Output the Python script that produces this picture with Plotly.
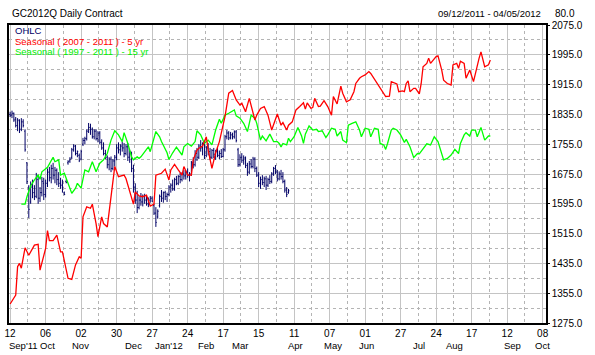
import plotly.graph_objects as go

# ---------------- data ----------------
day_tick_idx = [0, 19, 38, 57, 76, 95, 114, 133, 152, 171, 190, 209, 228, 247, 266, 285]
day_tick_text = ["12", "06", "02", "30", "27", "24", "17", "15", "11", "07", "01", "27", "24", "17", "12", "08"]
month_text = ["Sep'11", "Oct", "Nov", "Dec", "Jan'12", "Feb", "Mar", "Apr", "May", "Jun", "Jul", "Aug", "Sep", "Oct"]
month_pos = [0, 20.0, 37.7, 66, 85.1, 104.6, 123, 152.5, 173, 190.7, 218.6, 237.7, 269, 285]

bar_open = [1835, 1833, 1838, 1822, 1805, 1818, 1795, 1815, 1790, 1705, 1640, 1600, 1640, 1625, 1615, 1660,
            1610, 1625, 1650, 1620, 1650, 1680, 1665, 1690, 1672, 1685, 1660, 1650, 1645, 1625, 1655, 1705,
            1710, 1720, 1740, 1750, 1730, 1725, 1715, 1755, 1765, 1770, 1790, 1800, 1795, 1775, 1790, 1770,
            1785, 1760, 1745, 1730, 1720, 1700, 1715, 1690, 1710, 1720, 1745, 1740, 1750, 1745, 1730, 1748,
            1720, 1730, 1690, 1640, 1605, 1585, 1605, 1600, 1615, 1605, 1595, 1605, 1610, 1590, 1570, 1560,
            1590, 1615, 1610, 1625, 1615, 1620, 1640, 1645, 1635, 1660, 1650, 1668, 1660, 1675, 1670, 1680,
            1672, 1675, 1705, 1700, 1730, 1720, 1750, 1745, 1755, 1725, 1745, 1735, 1720, 1738, 1728, 1735,
            1725, 1730, 1722, 1740, 1775, 1785, 1772, 1780, 1775, 1788, 1740, 1700, 1720, 1712, 1718, 1698,
            1680, 1702, 1695, 1715, 1690, 1672, 1650, 1660, 1652, 1662, 1645, 1660, 1655, 1675, 1690, 1680,
            1662, 1675, 1668, 1655, 1632, 1625]
bar_high = [1842, 1845, 1840, 1828, 1825, 1822, 1825, 1822, 1795, 1707, 1645, 1655, 1660, 1645, 1678, 1668,
            1640, 1667, 1665, 1660, 1690, 1694, 1700, 1705, 1694, 1690, 1680, 1665, 1660, 1628, 1660, 1712,
            1720, 1745, 1755, 1753, 1738, 1730, 1740, 1772, 1775, 1795, 1812, 1810, 1800, 1795, 1795, 1790,
            1790, 1768, 1760, 1740, 1725, 1720, 1722, 1715, 1726, 1755, 1760, 1755, 1762, 1758, 1755, 1758,
            1740, 1735, 1700, 1650, 1630, 1615, 1624, 1620, 1622, 1618, 1612, 1616, 1615, 1595, 1586, 1580,
            1620, 1632, 1628, 1630, 1625, 1645, 1650, 1660, 1665, 1670, 1672, 1678, 1680, 1686, 1685, 1690,
            1680, 1710, 1720, 1739, 1745, 1755, 1766, 1760, 1762, 1750, 1758, 1745, 1742, 1745, 1740, 1745,
            1738, 1742, 1745, 1780, 1793, 1790, 1788, 1786, 1792, 1793, 1745, 1728, 1731, 1725, 1722, 1705,
            1710, 1715, 1721, 1720, 1695, 1680, 1668, 1672, 1668, 1670, 1665, 1672, 1680, 1694, 1699, 1686,
            1682, 1686, 1680, 1660, 1640, 1635]
bar_low = [1828, 1825, 1815, 1800, 1790, 1785, 1790, 1800, 1735, 1648, 1557, 1595, 1610, 1605, 1610, 1595,
           1600, 1615, 1605, 1612, 1640, 1655, 1650, 1660, 1650, 1645, 1640, 1635, 1625, 1618, 1650, 1700,
           1705, 1715, 1735, 1725, 1720, 1707, 1712, 1750, 1755, 1765, 1785, 1780, 1770, 1768, 1765, 1760,
           1755, 1740, 1725, 1715, 1690, 1685, 1680, 1685, 1695, 1712, 1730, 1725, 1735, 1720, 1725, 1710,
           1705, 1680, 1625, 1595, 1570, 1580, 1590, 1588, 1595, 1590, 1586, 1598, 1600, 1565, 1533, 1555,
           1585, 1600, 1598, 1605, 1600, 1615, 1625, 1630, 1630, 1645, 1645, 1650, 1655, 1660, 1660, 1665,
           1655, 1670, 1690, 1695, 1710, 1715, 1735, 1725, 1715, 1720, 1725, 1713, 1715, 1718, 1713, 1720,
           1715, 1718, 1720, 1735, 1768, 1766, 1768, 1768, 1770, 1760, 1694, 1695, 1705, 1700, 1691, 1670,
           1675, 1690, 1690, 1680, 1667, 1640, 1635, 1645, 1640, 1632, 1640, 1648, 1650, 1670, 1675, 1655,
           1658, 1660, 1650, 1625, 1613, 1622]
bar_close = [1833, 1838, 1820, 1805, 1820, 1795, 1815, 1805, 1740, 1655, 1580, 1640, 1625, 1615, 1665, 1610,
             1625, 1655, 1620, 1650, 1680, 1665, 1690, 1672, 1685, 1660, 1650, 1645, 1640, 1620, 1652, 1708,
             1715, 1740, 1750, 1730, 1735, 1712, 1735, 1765, 1770, 1790, 1800, 1795, 1775, 1790, 1770, 1785,
             1760, 1745, 1730, 1720, 1700, 1715, 1690, 1710, 1720, 1745, 1740, 1750, 1745, 1730, 1748, 1720,
             1735, 1690, 1640, 1605, 1585, 1605, 1600, 1615, 1605, 1595, 1605, 1610, 1602, 1570, 1545, 1575,
             1615, 1610, 1625, 1615, 1620, 1640, 1645, 1635, 1660, 1650, 1668, 1660, 1675, 1670, 1680, 1672,
             1675, 1705, 1700, 1730, 1720, 1750, 1745, 1755, 1725, 1745, 1735, 1720, 1738, 1728, 1735, 1725,
             1730, 1722, 1740, 1775, 1785, 1772, 1780, 1775, 1788, 1765, 1700, 1720, 1712, 1718, 1698, 1680,
             1702, 1695, 1715, 1690, 1672, 1650, 1660, 1652, 1662, 1645, 1660, 1655, 1675, 1690, 1680, 1662,
             1675, 1668, 1655, 1632, 1620, 1630]
bar_idx = list(range(len(bar_close)))

red_idx = [0, 3, 4, 5, 6, 8, 10, 13, 15, 16, 19, 20, 21, 23, 25, 27, 28, 31, 33, 35, 37, 38, 39, 41, 43, 44,
           46, 47, 49, 50, 52, 54, 56, 58, 61, 62, 66, 67, 69, 71, 73, 75, 77, 78, 81, 83, 85, 86, 88, 90,
           92, 93, 95, 97, 98, 100, 101, 103, 105, 106, 108, 110, 112, 114, 115, 117, 119, 121, 123, 124,
           126, 128, 129, 131, 132, 134, 136, 138, 140, 143, 145, 146, 148, 149, 151, 153, 155, 157, 158,
           159, 161, 162, 163, 165, 166, 168, 170, 172, 173, 175, 177, 178, 180, 182, 184, 185, 187, 188,
           190, 192, 193, 195, 197, 199, 201, 203, 204, 207, 208, 210, 211, 212, 213, 214, 216, 217, 219,
           220, 221, 223, 224, 225, 227, 228, 229, 231, 232, 234, 236, 237, 239, 240, 241, 243, 244, 246,
           248, 250, 251, 252, 254, 256, 257]
red_val = [1326, 1350, 1426, 1435, 1422, 1477, 1457, 1484, 1486, 1417, 1475, 1523, 1496, 1496, 1511, 1466,
           1466, 1395, 1392, 1431, 1453, 1449, 1560, 1587, 1583, 1594, 1542, 1507, 1560, 1542, 1533, 1623,
           1695, 1668, 1672, 1663, 1594, 1627, 1616, 1614, 1618, 1589, 1594, 1672, 1677, 1688, 1659, 1686,
           1701, 1686, 1672, 1695, 1672, 1672, 1713, 1739, 1744, 1750, 1775, 1739, 1690, 1732, 1762, 1807,
           1829, 1892, 1899, 1874, 1860, 1865, 1842, 1878, 1856, 1820, 1833, 1851, 1856, 1833, 1793, 1836,
           1806, 1813, 1793, 1806, 1815, 1847, 1856, 1866, 1849, 1866, 1851, 1854, 1878, 1856, 1857, 1872,
           1856, 1833, 1883, 1863, 1911, 1892, 1869, 1874, 1896, 1918, 1932, 1936, 1941, 1950, 1945, 1929,
           1914, 1896, 1883, 1884, 1923, 1917, 1896, 1898, 1896, 1918, 1925, 1896, 1905, 1905, 1890, 1918,
           1963, 1972, 1986, 1972, 1986, 1990, 1992, 1954, 1927, 1918, 1914, 1968, 1972, 1959, 1978, 1972,
           1932, 1954, 1923, 1968, 1986, 2003, 1963, 1968, 1981]

green_idx = [6, 8, 9, 11, 13, 15, 16, 17, 20, 22, 23, 24, 26, 27, 29, 31, 33, 35, 36, 38, 40, 42, 44, 46,
             48, 50, 52, 54, 56, 58, 60, 61, 63, 65, 66, 68, 69, 70, 72, 74, 75, 78, 80, 81, 84, 85, 87, 89,
             92, 93, 95, 97, 99, 100, 102, 104, 106, 108, 110, 112, 113, 115, 117, 120, 121, 123, 125, 127,
             129, 131, 132, 134, 135, 137, 139, 141, 143, 144, 145, 146, 148, 149, 150, 152, 154, 156, 157,
             158, 160, 162, 164, 165, 167, 169, 170, 172, 174, 175, 177, 178, 180, 181, 183, 185, 187, 188,
             190, 192, 193, 195, 197, 198, 200, 201, 202, 204, 205, 207, 209, 211, 212, 214, 216, 218, 219,
             221, 223, 225, 227, 229, 231, 232, 234, 236, 238, 240, 241, 243, 244, 246, 247, 249, 250, 252,
             254, 256, 257]
green_val = [1594, 1594, 1614, 1643, 1659, 1672, 1661, 1681, 1693, 1713, 1720, 1708, 1713, 1672, 1677, 1650,
             1623, 1637, 1650, 1637, 1686, 1681, 1708, 1681, 1704, 1713, 1730, 1766, 1791, 1780, 1762, 1786,
             1757, 1721, 1713, 1721, 1717, 1721, 1735, 1748, 1735, 1789, 1775, 1762, 1732, 1714, 1732, 1747,
             1726, 1748, 1757, 1750, 1762, 1791, 1780, 1757, 1766, 1753, 1793, 1822, 1811, 1833, 1838, 1847,
             1831, 1825, 1811, 1789, 1833, 1825, 1811, 1766, 1777, 1764, 1782, 1762, 1762, 1757, 1748, 1757,
             1753, 1771, 1762, 1775, 1800, 1777, 1757, 1782, 1804, 1793, 1795, 1789, 1791, 1773, 1780, 1798,
             1795, 1777, 1789, 1766, 1759, 1806, 1811, 1815, 1793, 1775, 1798, 1795, 1775, 1798, 1795, 1757,
             1753, 1741, 1757, 1793, 1798, 1793, 1780, 1760, 1768, 1748, 1719, 1730, 1729, 1744, 1756, 1753,
             1775, 1762, 1730, 1713, 1717, 1726, 1741, 1730, 1757, 1780, 1786, 1777, 1793, 1793, 1775, 1800,
             1766, 1777, 1777]

y_ticks = [1275, 1355, 1435, 1515, 1595, 1675, 1755, 1835, 1915, 1995, 2075]

# ---------------- figure ----------------
FONT = "Liberation Sans, Arial, sans-serif"
NAVY = "#000066"
FS = 10

fig = go.Figure()
fig.add_trace(go.Scatter(x=green_idx, y=green_val, mode="lines",
                         line=dict(color="#00ff00", width=1.3), hoverinfo="skip"))
fig.add_trace(go.Scatter(x=red_idx, y=red_val, mode="lines",
                         line=dict(color="#ff0000", width=1.3), hoverinfo="skip"))
fig.add_trace(go.Ohlc(x=bar_idx, open=bar_open, high=bar_high, low=bar_low, close=bar_close,
                      increasing=dict(line=dict(color=NAVY, width=1)),
                      decreasing=dict(line=dict(color=NAVY, width=1)),
                      tickwidth=0.45))

minor_x = [v + 9.5 for v in day_tick_idx[:-1]]

fig.update_layout(
    width=595, height=355,
    margin=dict(l=5, r=49, t=25, b=32),
    paper_bgcolor="white", plot_bgcolor="white",
    showlegend=False,
    font=dict(family=FONT, size=FS, color="black"),
    xaxis=dict(
        range=[-0.6, 286.8], tickmode="array", tickvals=day_tick_idx, ticktext=day_tick_text,
        showgrid=True, gridcolor="#c4c4c4", gridwidth=1,
        minor=dict(tickmode="array", tickvals=minor_x, showgrid=True, gridcolor="#b4b4b4",
                   griddash="dot", gridwidth=1),
        showline=True, linecolor="black", linewidth=1.5, mirror=True,
        ticks="", ticklabelstandoff=0,
        zeroline=False, rangeslider=dict(visible=False),
        tickfont=dict(family=FONT, size=FS, color="black"),
    ),
    yaxis=dict(
        range=[1275, 2075], side="right", tickmode="array", tickvals=y_ticks,
        tickformat=".1f", showgrid=True, gridcolor="#c4c4c4", gridwidth=1,
        minor=dict(tick0=1315, dtick=80, showgrid=True, gridcolor="#b4b4b4",
                   griddash="dot", gridwidth=1),
        showline=True, linecolor="black", linewidth=1.5, mirror=True,
        ticks="outside", ticklen=2, tickcolor="black",
        zeroline=False,
        tickfont=dict(family=FONT, size=FS, color="black"),
    ),
)

ann = []
for k, (txt, pos) in enumerate(zip(month_text, month_pos)):
    ann.append(dict(x=pos, y=-0.077, xref="x", yref="paper", text=txt, showarrow=False,
                    xanchor="left" if k == 0 else "center", yanchor="middle",
                    xshift=-3 if k == 0 else 0,
                    font=dict(family=FONT, size=9.5, color="black")))
ann.append(dict(x=0.002, y=1.040, xref="paper", yref="paper", text="GC2012Q Daily Contract",
                showarrow=False, xanchor="left", yanchor="middle",
                font=dict(family=FONT, size=FS, color="black")))
ann.append(dict(x=0.9945, y=1.040, xref="paper", yref="paper", text="09/12/2011 - 04/05/2012",
                showarrow=False, xanchor="right", yanchor="middle",
                font=dict(family=FONT, size=9.5, color="black")))
ann.append(dict(x=1.057, y=1.040, xref="paper", yref="paper", text="80.0",
                showarrow=False, xanchor="right", yanchor="middle",
                font=dict(family=FONT, size=FS, color="black")))
legend_items = [("OHLC", NAVY), ("Seasonal ( 2007 - 2011 ) - 5 yr", "#ff0000"),
                ("Seasonal ( 1997 - 2011 ) - 15 yr", "#00ee00")]
for k, (txt, col) in enumerate(legend_items):
    ann.append(dict(x=0.007, y=(323 - (31 + 10 * k)) / 298, xref="paper", yref="paper", text=txt,
                    showarrow=False, xanchor="left", yanchor="middle",
                    font=dict(family=FONT, size=9.5, color=col)))
fig.update_layout(annotations=ann)

fig.write_html("out.html")
